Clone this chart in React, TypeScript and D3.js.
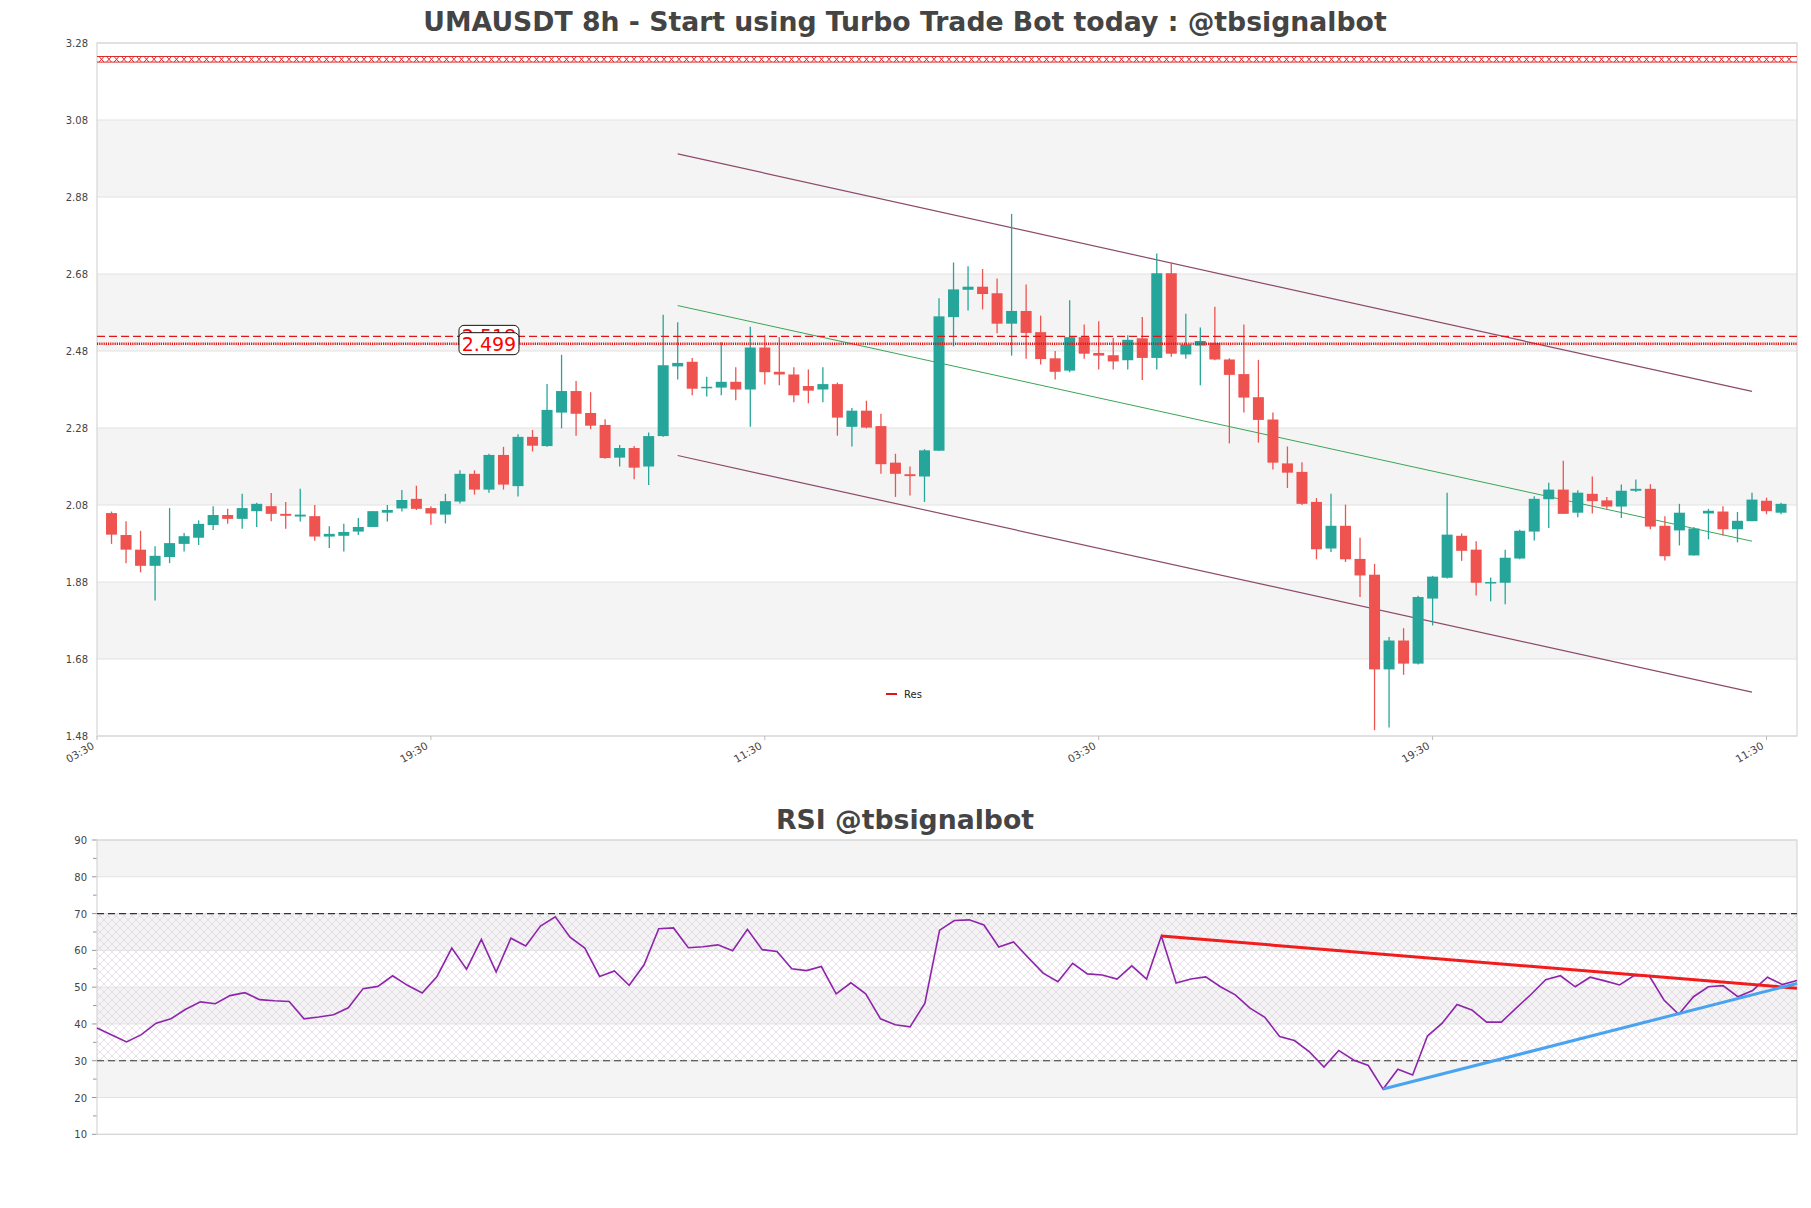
import * as d3 from "d3";

// candle data, 8h bars
const opens = [2.059,2.002,1.964,1.922,1.945,1.979,1.995,2.028,2.054,2.044, 2.064,2.077,2.057,2.050,2.051,1.998,2.000,2.011,2.023,2.060,
  2.071,2.096,2.072,2.055,2.089,2.161,2.120,2.210,2.129,2.257, 2.233,2.320,2.376,2.319,2.288,2.203,2.228,2.180,2.259,2.440,
  2.452,2.386,2.385,2.400,2.380,2.489,2.426,2.419,2.389,2.380, 2.394,2.283,2.325,2.285,2.190,2.160,2.154,2.221,2.568,2.639,
  2.647,2.630,2.551,2.584,2.529,2.461,2.429,2.516,2.475,2.469, 2.456,2.513,2.462,2.682,2.471,2.494,2.501,2.458,2.420,2.360,
  2.302,2.188,2.166,2.088,1.967,2.026,1.940,1.899,1.653,1.728, 1.668,1.837,1.891,2.000,1.964,1.879,1.878,1.941,2.011,2.095,
  2.120,2.060,2.109,2.092,2.076,2.117,2.122,2.026,2.014,1.949, 2.058,2.063,2.017,2.038,2.091,2.060]
const highs = [2.063,2.038,2.013,1.973,2.072,2.007,2.040,2.077,2.070,2.109, 2.086,2.111,2.088,2.122,2.080,2.025,2.031,2.046,2.064,2.080,
  2.119,2.130,2.077,2.109,2.170,2.170,2.213,2.231,2.264,2.275, 2.394,2.470,2.402,2.373,2.303,2.236,2.233,2.268,2.574,2.555,
  2.462,2.413,2.503,2.438,2.543,2.521,2.516,2.438,2.432,2.438, 2.398,2.332,2.351,2.317,2.213,2.180,2.225,2.617,2.710,2.700,
  2.693,2.668,2.836,2.653,2.572,2.480,2.612,2.549,2.557,2.514, 2.521,2.568,2.733,2.709,2.577,2.541,2.595,2.461,2.549,2.457,
  2.320,2.232,2.191,2.098,2.109,2.081,1.995,1.927,1.737,1.760, 1.844,1.896,2.112,2.006,1.986,1.892,1.964,2.016,2.103,2.138,
  2.195,2.118,2.154,2.101,2.133,2.146,2.134,2.051,2.083,2.023, 2.070,2.077,2.062,2.112,2.099,2.086]
const lows = [1.979,1.929,1.905,1.832,1.929,1.959,1.976,2.015,2.031,2.018, 2.023,2.038,2.018,2.037,1.987,1.968,1.959,2.002,2.023,2.037,
  2.063,2.067,2.029,2.032,2.084,2.107,2.112,2.120,2.102,2.219, 2.231,2.279,2.260,2.277,2.200,2.180,2.147,2.132,2.257,2.406,
  2.365,2.362,2.365,2.352,2.283,2.393,2.391,2.347,2.344,2.347, 2.260,2.232,2.279,2.161,2.101,2.105,2.088,2.221,2.492,2.585,
  2.588,2.526,2.468,2.460,2.445,2.406,2.425,2.460,2.432,2.432, 2.432,2.405,2.432,2.465,2.460,2.391,2.456,2.240,2.320,2.242,
  2.172,2.124,2.080,1.939,1.958,1.932,1.841,1.495,1.502,1.639, 1.666,1.767,1.889,1.935,1.845,1.830,1.822,1.939,1.988,2.020,
  2.057,2.048,2.058,2.070,2.046,2.114,2.017,1.936,1.975,1.949, 1.991,2.001,1.983,2.038,2.056,2.056]
const closes = [2.003,1.964,1.922,1.948,1.981,1.999,2.031,2.054,2.044,2.072, 2.083,2.057,2.052,2.055,1.998,2.005,2.010,2.023,2.064,2.067,
  2.093,2.070,2.058,2.090,2.161,2.120,2.210,2.133,2.257,2.234, 2.327,2.376,2.317,2.286,2.202,2.228,2.177,2.259,2.443,2.449,
  2.382,2.387,2.400,2.380,2.489,2.425,2.419,2.365,2.377,2.394, 2.307,2.325,2.281,2.186,2.161,2.155,2.222,2.570,2.640,2.647,
  2.628,2.551,2.584,2.527,2.459,2.426,2.516,2.473,2.468,2.453, 2.509,2.462,2.682,2.473,2.497,2.506,2.458,2.418,2.359,2.301,
  2.190,2.164,2.083,1.965,2.026,1.939,1.897,1.653,1.728,1.668, 1.841,1.894,2.003,1.961,1.878,1.880,1.943,2.013,2.096,2.120,
  2.057,2.112,2.090,2.076,2.117,2.122,2.024,1.947,2.060,2.019, 2.065,2.017,2.039,2.094,2.064,2.083]

const rsi = [38.9,37.0,35.1,37.1,40.2,41.4,44.0,46.0,45.5,47.7, 48.5,46.6,46.3,46.1,41.4,41.9,42.5,44.4,49.6,50.2,
  53.1,50.5,48.4,52.9,60.6,54.9,63.0,54.1,63.3,61.2, 66.6,69.1,63.6,60.6,52.9,54.4,50.5,56.0,65.9,66.1,
  60.7,61.0,61.5,59.9,65.7,60.2,59.7,55.0,54.5,55.6, 48.2,51.2,48.2,41.4,39.8,39.2,45.6,65.5,68.1,68.3,
  66.9,60.9,62.3,58.0,53.8,51.5,56.5,53.6,53.3,52.2, 55.8,52.2,63.9,51.1,52.2,52.8,50.1,47.9,44.3,41.8,
  36.6,35.5,32.5,28.3,32.8,30.2,28.7,22.3,27.7,26.1, 36.7,40.2,45.3,43.8,40.5,40.5,44.3,48.0,52.0,53.1,
  50.1,52.7,51.7,50.6,53.2,53.1,46.5,42.6,47.4,50.1, 50.4,47.4,49.1,52.7,50.7,51.8]

const timeTickIdx = [0, 23, 46, 69, 92, 115]
const timeTickLabels = ["03:30", "19:30", "11:30", "03:30", "19:30", "11:30"]
const priceTicks = [1.48, 1.68, 1.88, 2.08, 2.28, 2.48, 2.68, 2.88, 3.08, 3.28]
const rsiTicks = [10, 20, 30, 40, 50, 60, 70, 80, 90]
const rsiMinorTicks = [15, 25, 35, 45, 55, 65, 75, 85]

// levels and channel
const resLevels = [2.518, 2.499]
const topLevel = 3.2377
const channelUpper = [[40, 2.992], [114, 2.375]]
const channelMid = [[40, 2.598], [114, 1.986]]
const channelLower = [[40, 2.2085], [114, 1.594]]
const rsiResLine = [[73, 63.9], [116, 49.7]]
const rsiSupLine = [[88, 22.3], [116, 51.0]]

const W = 1811, H = 1208
const L = 97, R = 1797
const font = "'DejaVu Sans', 'Noto Sans', sans-serif"
const up = "#26a69a", down = "#ef5350"

export default function App() {
  const x = d3.scaleLinear().domain([0, 117.1]).range([L, R])
  const y = d3.scaleLinear().domain([1.48, 3.28]).range([736, 43])
  const xr = d3.scaleLinear().domain([1, 116]).range([L, R])
  const yr = d3.scaleLinear().domain([10, 90]).range([1134.3, 840])

  const seg = d3.line<number[]>().x(d => x(d[0])).y(d => y(d[1]))
  const rseg = d3.line<number[]>().x(d => xr(d[0])).y(d => yr(d[1]))
  const rsiPath = d3.line<number>().x((d, i) => xr(i + 1)).y(d => yr(d))(rsi)

  const bw = 11
  const labelX = x(27)

  // top "x" line
  const yt = y(topLevel)
  const crosses = d3.range(L + 2, R - 4, 7.5)

  return (
    <svg width={W} height={H} style={{ position: "absolute", left: 0, top: 0, background: "#fff" }} fontFamily={font}>
      <defs>
        <pattern id="hatch" width="8" height="8" patternUnits="userSpaceOnUse">
          <path d="M0,0 L8,8 M8,0 L0,8" stroke="#d9c9dc" strokeWidth="0.6" fill="none" />
        </pattern>
        <clipPath id="mainclip"><rect x={L} y={43} width={R - L} height={693} /></clipPath>
      </defs>

      <text x={905} y={31} textAnchor="middle" fontSize={26.7} fontWeight="bold" fill="#444">
        UMAUSDT 8h - Start using Turbo Trade Bot today : @tbsignalbot
      </text>

      {/* main panel bands and grid */}
      {priceTicks.slice(0, -1).map((t, k) => k % 2 === 1 ? (
        <rect key={"b" + k} x={L} y={y(priceTicks[k + 1])} width={R - L} height={y(t) - y(priceTicks[k + 1])} fill="#f4f4f4" />
      ) : null)}
      {priceTicks.map(t => (
        <g key={"g" + t}>
          <line x1={L} x2={R} y1={y(t)} y2={y(t)} stroke="#e2e2e2" strokeWidth={1} />
          <text x={L - 9} y={y(t) + 4} textAnchor="end" fontSize={10} fill="#444">{t.toFixed(2)}</text>
        </g>
      ))}
      <rect x={L} y={43} width={R - L} height={693} fill="none" stroke="#d6d6d6" strokeWidth={1.2} />

      {timeTickIdx.map((t, k) => (
        <g key={"xt" + k}>
          <line x1={x(t)} x2={x(t)} y1={736} y2={740} stroke="#bbb" />
          <text transform={`translate(${x(t) - 2},${748}) rotate(-30)`} textAnchor="end" fontSize={10.5} fill="#444">{timeTickLabels[k]}</text>
        </g>
      ))}

      <g clipPath="url(#mainclip)">
        {/* top level line with x pattern */}
        <line x1={L} x2={R} y1={yt - 2.8} y2={yt - 2.8} stroke="#e02828" strokeWidth={1} />
        <line x1={L} x2={R} y1={yt + 2.8} y2={yt + 2.8} stroke="#e02828" strokeWidth={1} />
        {crosses.map((cx, i) => (
          <path key={"c" + i} d={`M${cx},${yt - 2.8} L${cx + 5},${yt + 2.8} M${cx + 5},${yt - 2.8} L${cx},${yt + 2.8}`} stroke="#e02828" strokeWidth={1} fill="none" />
        ))}

        {/* channel */}
        <path d={seg(channelUpper) ?? ""} stroke="#8d4a6a" strokeWidth={1.2} fill="none" />
        <path d={seg(channelLower) ?? ""} stroke="#8d4a6a" strokeWidth={1.2} fill="none" />
        <path d={seg(channelMid) ?? ""} stroke="#3aa655" strokeWidth={1} fill="none" />

        {/* candles */}
        {opens.map((o, i) => {
          const c = closes[i]
          const col = c >= o ? up : down
          const cx = x(i + 1)
          const top = y(Math.max(o, c)), bot = y(Math.min(o, c))
          return (
            <g key={"k" + i}>
              <line x1={cx} x2={cx} y1={y(highs[i])} y2={y(lows[i])} stroke={col} strokeWidth={1.3} />
              <rect x={cx - bw / 2} y={top} width={bw} height={Math.max(bot - top, 1.5)} fill={col} />
            </g>
          )
        })}

        {/* resistance levels */}
        <line x1={L} x2={R} y1={y(resLevels[0])} y2={y(resLevels[0])} stroke="#e01515" strokeWidth={1.4} strokeDasharray="8 4" />
        <line x1={L} x2={R} y1={y(resLevels[1])} y2={y(resLevels[1])} stroke="#e01515" strokeWidth={2.6} strokeDasharray="1.2 1" />
      </g>

      {resLevels.map((lv, k) => (
        <g key={"lab" + k}>
          <rect x={labelX - 30} y={y(lv) - 11} width={60} height={22} rx={5} fill="#fff" stroke="#111" strokeWidth={1} />
          <text x={labelX} y={y(lv) + 7} textAnchor="middle" fontSize={19} fill="#ff0000">{lv.toFixed(3)}</text>
        </g>
      ))}

      {/* legend */}
      <line x1={886} x2={897} y1={694} y2={694} stroke="#e01515" strokeWidth={2} />
      <text x={904} y={698} fontSize={10} fill="#222">Res</text>

      {/* RSI panel */}
      <text x={905} y={829} textAnchor="middle" fontSize={26.7} fontWeight="bold" fill="#444">RSI @tbsignalbot</text>
      {rsiTicks.slice(0, -1).map((t, k) => k % 2 === 1 ? (
        <rect key={"rb" + k} x={L} y={yr(rsiTicks[k + 1])} width={R - L} height={yr(t) - yr(rsiTicks[k + 1])} fill="#f4f4f4" />
      ) : null)}
      <rect x={L} y={yr(70)} width={R - L} height={yr(30) - yr(70)} fill="url(#hatch)" />
      {rsiTicks.map(t => (
        <g key={"rg" + t}>
          <line x1={L} x2={R} y1={yr(t)} y2={yr(t)} stroke="#e2e2e2" strokeWidth={1} />
          <line x1={L - 5} x2={L} y1={yr(t)} y2={yr(t)} stroke="#999" />
          <text x={L - 10} y={yr(t) + 4} textAnchor="end" fontSize={10} fill="#444">{t}</text>
        </g>
      ))}
      {rsiMinorTicks.map(t => (
        <line key={"rm" + t} x1={L - 4} x2={L} y1={yr(t)} y2={yr(t)} stroke="#999" />
      ))}
      <rect x={L} y={840} width={R - L} height={yr(10) - 840} fill="none" stroke="#d6d6d6" strokeWidth={1.2} />
      <line x1={L} x2={R} y1={yr(70)} y2={yr(70)} stroke="#333" strokeWidth={1.2} strokeDasharray="7 4" />
      <line x1={L} x2={R} y1={yr(30)} y2={yr(30)} stroke="#333" strokeWidth={1.2} strokeDasharray="7 4" />

      <path d={rsiPath ?? ""} stroke="#8e24aa" strokeWidth={1.6} fill="none" />
      <path d={rseg(rsiResLine) ?? ""} stroke="#f21c1c" strokeWidth={3} fill="none" />
      <path d={rseg(rsiSupLine) ?? ""} stroke="#4aa3f0" strokeWidth={3} fill="none" />
    </svg>
  )
}
